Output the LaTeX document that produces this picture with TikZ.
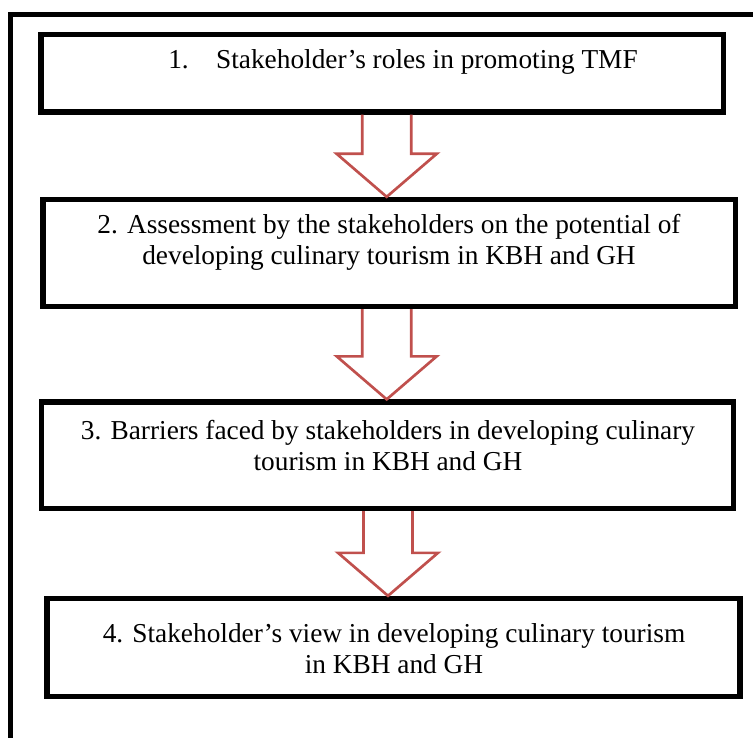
\documentclass[tikz,border=0pt]{standalone}
\usepackage{fontspec}
\setmainfont{Liberation Serif}
\newfontfamily\stagefont{Liberation Serif}
\usepackage{xcolor}
\usetikzlibrary{calc}
\definecolor{arrowred}{RGB}{192,80,77}

\begin{document}
\begin{tikzpicture}[x=0.75pt,y=-0.75pt,
  stagebox/.style={draw,line width=4pt,inner sep=0pt},
  stagetext/.style={align=center,font=\stagefont\fontsize{20.5}{23.25}\selectfont},
  blockarrow/.style={draw=arrowred,line width=2pt}]
\useasboundingbox (0,0) rectangle (753,738);
\clip (0,0) rectangle (753,738);
% outer frame, it runs off the page on the right and at the bottom
\draw[line width=3.75pt] (10.5,760) -- (10.5,14.5) -- (770,14.5);

% the four stage boxes
\foreach \nm/\cx/\cy/\w/\h in {b1/382.25/73.25/682.5/77.5,
                               b2/389.4/253/692.7/107,
                               b3/387.6/455.25/692.2/106.5,
                               b4/393.5/647.5/693/98} {
  \node[stagebox,minimum width=\w*0.75pt,minimum height=\h*0.75pt] (\nm) at (\cx,\cy) {};
}

\node[stagetext] (t1) at (403,62) {1.\hspace{1em}Stakeholder’s roles in promoting TMF};
\node[stagetext] (t2) at (389,242) {2. Assessment by the stakeholders on the potential of\\developing culinary tourism in KBH and GH};
\node[stagetext] (t3) at (388,445.5) {3. Barriers faced by stakeholders in developing culinary\\tourism in KBH and GH};
\node[stagetext] (t4) at (394,649) {4. Stakeholder’s view in developing culinary tourism\\in KBH and GH};

% hollow block arrows from one box to the next
\foreach \a/\b/\ax in {b1/b2/386.7,b2/b3/386.7,b3/b4/388} {
  \coordinate (ax) at (\ax,0);
  \draw[blockarrow] ($(\a.south -| ax)+(-24.5,0)$) -- ($(\b.north -| ax)+(-24.5,-43)$)
    -- ($(\b.north -| ax)+(-50,-43)$) -- (\b.north -| ax) -- ($(\b.north -| ax)+(50,-43)$)
    -- ($(\b.north -| ax)+(24.5,-43)$) -- ($(\a.south -| ax)+(24.5,0)$);
}
\end{tikzpicture}
\end{document}
